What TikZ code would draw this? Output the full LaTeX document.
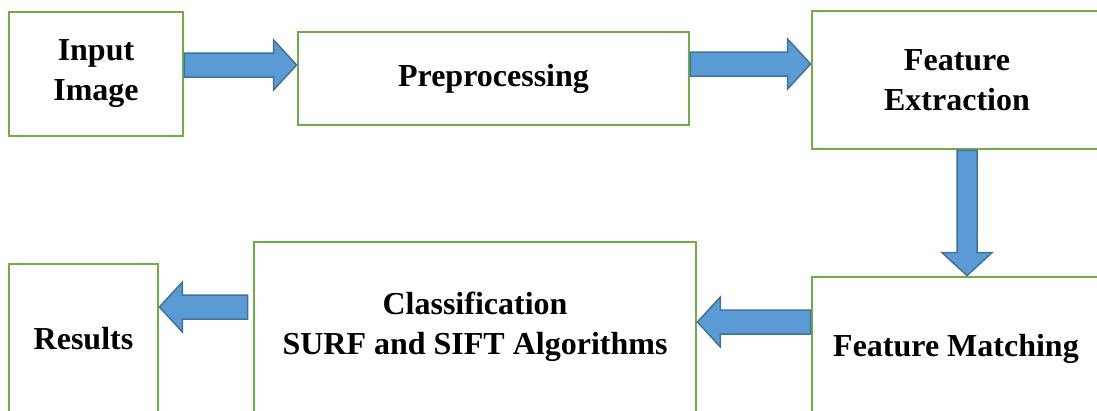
\documentclass[tikz,border=0pt]{standalone}
\usepackage{fontspec}
\setmainfont{Liberation Serif}
\usetikzlibrary{calc}

\definecolor{boxgreen}{HTML}{70AD47}
\definecolor{arrowblue}{HTML}{5B9BD5}
\definecolor{arrowedge}{HTML}{41719C}

% block arrow from #2 to #3, #1 = half the shaft width
\newcommand{\fatarrow}[3][12pt]{%
  \path (#2) coordinate (fa-s) (#3) coordinate (fa-t)
        ($(fa-t)!23pt!(fa-s)$) coordinate (fa-h);
  \draw[fat] ($(fa-s)!#1!90:(fa-t)$) -- ($(fa-h)!#1!-90:(fa-s)$)
     -- ($(fa-h)!25pt!-90:(fa-s)$) -- (fa-t)
     -- ($(fa-h)!25pt!90:(fa-s)$) -- ($(fa-h)!#1!90:(fa-s)$)
     -- ($(fa-s)!#1!-90:(fa-t)$) -- cycle;}

\begin{document}
\begin{tikzpicture}[x=1pt, y=-1pt,
    box/.style={draw=boxgreen, line width=2.8pt, fill=white, align=center, inner sep=0pt,
                font=\fontsize{32}{40}\selectfont\bfseries},
    fat/.style={draw=arrowedge, fill=arrowblue, line width=1.5pt, line join=miter}]

    \useasboundingbox (0,0) rectangle (1097,410);
    \clip (0,0) rectangle (1097,410);

    \node[box, minimum width=174pt, minimum height=124pt] (input) at (96,74) {Input\\Image};
    \node[box, minimum width=391pt, minimum height=93pt] (prep) at (493.5,78.5) {Preprocessing};
    \node[box, minimum width=290pt, minimum height=138pt] (extract) at (957,80) {Feature\\Extraction};
    \node[box, minimum width=288pt, minimum height=144pt] (match) at (956,349) {Feature Matching};
    \node[box, minimum width=442pt, minimum height=170pt] (classify) at (475,327) {Classification\\SURF and SIFT Algorithms};
    \node[box, minimum width=149pt, minimum height=150pt] (results) at (83.5,339) {Results};

    \fatarrow{input.east |- 0,65}{prep.west |- 0,65}
    \fatarrow{prep.east |- 0,64}{extract.west |- 0,64}
    \fatarrow[10pt]{967,0 |- extract.south}{967,0 |- match.north}
    \fatarrow{match.west |- 0,322}{classify.east |- 0,322}
    \fatarrow{$(classify.west |- 0,307)+(-5,0)$}{results.east |- 0,307}
\end{tikzpicture}
\end{document}
